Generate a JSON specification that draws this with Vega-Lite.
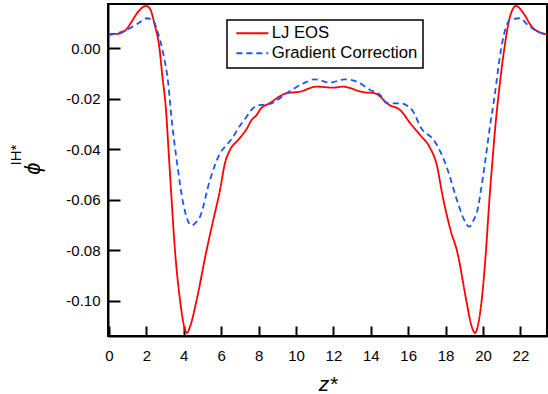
{
  "$schema": "https://vega.github.io/schema/vega-lite/v6.json",
  "width": 439,
  "height": 332,
  "autosize": {"type": "none"},
  "padding": {"left": 108, "top": 4, "right": 1, "bottom": 58},
  "background": "white",
  "config": {"view": {"stroke": "black", "strokeWidth": 2}, "font": "Liberation Sans"},
  "title": {"text": "IH*", "orient": "left", "anchor": "middle", "fontSize": 15, "fontWeight": "normal", "color": "black", "font": "Liberation Sans", "offset": -3, "dx": 15},
  "data": {"values": [
    {"series": "LJ EOS", "z": 0, "phi": 0.0057},
    {"series": "LJ EOS", "z": 0.4, "phi": 0.0057},
    {"series": "LJ EOS", "z": 0.85, "phi": 0.0069},
    {"series": "LJ EOS", "z": 1.2, "phi": 0.0104},
    {"series": "LJ EOS", "z": 1.55, "phi": 0.0144},
    {"series": "LJ EOS", "z": 2.0, "phi": 0.0168},
    {"series": "LJ EOS", "z": 2.2, "phi": 0.0156},
    {"series": "LJ EOS", "z": 2.45, "phi": 0.0092},
    {"series": "LJ EOS", "z": 2.7, "phi": 0.0001},
    {"series": "LJ EOS", "z": 2.85, "phi": -0.0106},
    {"series": "LJ EOS", "z": 3.05, "phi": -0.0244},
    {"series": "LJ EOS", "z": 3.2, "phi": -0.042},
    {"series": "LJ EOS", "z": 3.35, "phi": -0.06},
    {"series": "LJ EOS", "z": 3.53, "phi": -0.08},
    {"series": "LJ EOS", "z": 3.8, "phi": -0.0997},
    {"series": "LJ EOS", "z": 4.0, "phi": -0.1095},
    {"series": "LJ EOS", "z": 4.17, "phi": -0.1128},
    {"series": "LJ EOS", "z": 4.35, "phi": -0.11},
    {"series": "LJ EOS", "z": 4.69, "phi": -0.0997},
    {"series": "LJ EOS", "z": 5.22, "phi": -0.08},
    {"series": "LJ EOS", "z": 5.58, "phi": -0.068},
    {"series": "LJ EOS", "z": 5.94, "phi": -0.0561},
    {"series": "LJ EOS", "z": 6.2, "phi": -0.0456},
    {"series": "LJ EOS", "z": 6.47, "phi": -0.0403},
    {"series": "LJ EOS", "z": 6.91, "phi": -0.0363},
    {"series": "LJ EOS", "z": 7.36, "phi": -0.032},
    {"series": "LJ EOS", "z": 7.63, "phi": -0.0284},
    {"series": "LJ EOS", "z": 7.9, "phi": -0.0264},
    {"series": "LJ EOS", "z": 8.07, "phi": -0.0244},
    {"series": "LJ EOS", "z": 8.6, "phi": -0.0217},
    {"series": "LJ EOS", "z": 9.5, "phi": -0.0178},
    {"series": "LJ EOS", "z": 10.2, "phi": -0.0172},
    {"series": "LJ EOS", "z": 11.1, "phi": -0.0152},
    {"series": "LJ EOS", "z": 12.0, "phi": -0.0156},
    {"series": "LJ EOS", "z": 12.5, "phi": -0.0152},
    {"series": "LJ EOS", "z": 13.6, "phi": -0.0174},
    {"series": "LJ EOS", "z": 14.2, "phi": -0.0178},
    {"series": "LJ EOS", "z": 15.0, "phi": -0.0225},
    {"series": "LJ EOS", "z": 15.56, "phi": -0.0244},
    {"series": "LJ EOS", "z": 16.1, "phi": -0.0296},
    {"series": "LJ EOS", "z": 16.63, "phi": -0.0343},
    {"series": "LJ EOS", "z": 17.17, "phi": -0.0395},
    {"series": "LJ EOS", "z": 17.5, "phi": -0.0455},
    {"series": "LJ EOS", "z": 17.88, "phi": -0.06},
    {"series": "LJ EOS", "z": 18.3, "phi": -0.073},
    {"series": "LJ EOS", "z": 18.6, "phi": -0.08},
    {"series": "LJ EOS", "z": 19.1, "phi": -0.0997},
    {"series": "LJ EOS", "z": 19.35, "phi": -0.109},
    {"series": "LJ EOS", "z": 19.57, "phi": -0.1128},
    {"series": "LJ EOS", "z": 19.75, "phi": -0.109},
    {"series": "LJ EOS", "z": 19.93, "phi": -0.0997},
    {"series": "LJ EOS", "z": 20.16, "phi": -0.08},
    {"series": "LJ EOS", "z": 20.34, "phi": -0.06},
    {"series": "LJ EOS", "z": 20.5, "phi": -0.045},
    {"series": "LJ EOS", "z": 20.64, "phi": -0.0324},
    {"series": "LJ EOS", "z": 20.9, "phi": -0.0139},
    {"series": "LJ EOS", "z": 21.18, "phi": 0.002},
    {"series": "LJ EOS", "z": 21.44, "phi": 0.0125},
    {"series": "LJ EOS", "z": 21.76, "phi": 0.0168},
    {"series": "LJ EOS", "z": 22.16, "phi": 0.0139},
    {"series": "LJ EOS", "z": 22.6, "phi": 0.0086},
    {"series": "LJ EOS", "z": 23.05, "phi": 0.0062},
    {"series": "LJ EOS", "z": 23.42, "phi": 0.0055},
    {"series": "Gradient Correction", "z": 0, "phi": 0.0052},
    {"series": "Gradient Correction", "z": 0.86, "phi": 0.007},
    {"series": "Gradient Correction", "z": 1.57, "phi": 0.0099},
    {"series": "Gradient Correction", "z": 2.0, "phi": 0.0119},
    {"series": "Gradient Correction", "z": 2.37, "phi": 0.0109},
    {"series": "Gradient Correction", "z": 2.63, "phi": 0.0059},
    {"series": "Gradient Correction", "z": 2.9, "phi": -0.002},
    {"series": "Gradient Correction", "z": 3.17, "phi": -0.0139},
    {"series": "Gradient Correction", "z": 3.35, "phi": -0.028},
    {"series": "Gradient Correction", "z": 3.62, "phi": -0.0442},
    {"series": "Gradient Correction", "z": 3.97, "phi": -0.0614},
    {"series": "Gradient Correction", "z": 4.2, "phi": -0.068},
    {"series": "Gradient Correction", "z": 4.42, "phi": -0.0702},
    {"series": "Gradient Correction", "z": 4.65, "phi": -0.069},
    {"series": "Gradient Correction", "z": 4.87, "phi": -0.0667},
    {"series": "Gradient Correction", "z": 5.4, "phi": -0.0522},
    {"series": "Gradient Correction", "z": 5.94, "phi": -0.0416},
    {"series": "Gradient Correction", "z": 6.29, "phi": -0.0383},
    {"series": "Gradient Correction", "z": 6.65, "phi": -0.035},
    {"series": "Gradient Correction", "z": 6.91, "phi": -0.0317},
    {"series": "Gradient Correction", "z": 7.36, "phi": -0.0271},
    {"series": "Gradient Correction", "z": 7.54, "phi": -0.0251},
    {"series": "Gradient Correction", "z": 7.9, "phi": -0.0228},
    {"series": "Gradient Correction", "z": 8.3, "phi": -0.0223},
    {"series": "Gradient Correction", "z": 8.7, "phi": -0.0218},
    {"series": "Gradient Correction", "z": 9.5, "phi": -0.0178},
    {"series": "Gradient Correction", "z": 10.4, "phi": -0.0139},
    {"series": "Gradient Correction", "z": 11.0, "phi": -0.0123},
    {"series": "Gradient Correction", "z": 11.8, "phi": -0.0136},
    {"series": "Gradient Correction", "z": 12.6, "phi": -0.0123},
    {"series": "Gradient Correction", "z": 13.25, "phi": -0.0132},
    {"series": "Gradient Correction", "z": 13.96, "phi": -0.0165},
    {"series": "Gradient Correction", "z": 14.5, "phi": -0.0185},
    {"series": "Gradient Correction", "z": 14.85, "phi": -0.0218},
    {"series": "Gradient Correction", "z": 15.56, "phi": -0.0218},
    {"series": "Gradient Correction", "z": 16.2, "phi": -0.0244},
    {"series": "Gradient Correction", "z": 16.7, "phi": -0.0317},
    {"series": "Gradient Correction", "z": 17.43, "phi": -0.037},
    {"series": "Gradient Correction", "z": 18.05, "phi": -0.0469},
    {"series": "Gradient Correction", "z": 18.6, "phi": -0.06},
    {"series": "Gradient Correction", "z": 18.95, "phi": -0.0673},
    {"series": "Gradient Correction", "z": 19.27, "phi": -0.0707},
    {"series": "Gradient Correction", "z": 19.5, "phi": -0.068},
    {"series": "Gradient Correction", "z": 19.66, "phi": -0.0653},
    {"series": "Gradient Correction", "z": 20.0, "phi": -0.0508},
    {"series": "Gradient Correction", "z": 20.37, "phi": -0.031},
    {"series": "Gradient Correction", "z": 20.64, "phi": -0.0178},
    {"series": "Gradient Correction", "z": 20.9, "phi": -0.0033},
    {"series": "Gradient Correction", "z": 21.18, "phi": 0.0072},
    {"series": "Gradient Correction", "z": 21.44, "phi": 0.0112},
    {"series": "Gradient Correction", "z": 21.98, "phi": 0.0119},
    {"series": "Gradient Correction", "z": 22.4, "phi": 0.0092},
    {"series": "Gradient Correction", "z": 22.94, "phi": 0.0066},
    {"series": "Gradient Correction", "z": 23.42, "phi": 0.0055}
  ]},
  "mark": {"type": "line", "strokeWidth": 1.8, "interpolate": "monotone"},
  "encoding": {
    "x": {"field": "z", "type": "quantitative",
      "scale": {"domain": [-0.05, 23.42], "nice": false, "zero": false},
      "axis": {"orient": "bottom", "values": [0, 2, 4, 6, 8, 10, 12, 14, 16, 18, 20, 22],
        "tickSize": -10, "tickWidth": 2, "tickColor": "black",
        "domainColor": "black", "domainWidth": 2, "grid": false,
        "labelFontSize": 15, "labelColor": "black", "labelPadding": 34, "labelBaseline": "alphabetic", "labelFlush": false,
        "title": "z*", "titleFontSize": 21, "titleFontStyle": "italic", "titleFontWeight": "normal",
        "titleColor": "black", "titleBaseline": "alphabetic", "titleY": 54}},
    "y": {"field": "phi", "type": "quantitative",
      "scale": {"domain": [-0.114, 0.01755], "nice": false, "zero": false},
      "axis": {"orient": "left", "values": [-0.1, -0.08, -0.06, -0.04, -0.02, 0],
        "format": ".2f", "labelExpr": "replace(datum.label, '−', '-')",
        "tickSize": -12, "tickWidth": 2, "tickColor": "black",
        "domainColor": "black", "domainWidth": 2, "grid": false,
        "labelFontSize": 15, "labelColor": "black", "labelPadding": 20, "labelFlush": false,
        "title": "ϕ", "titleFontSize": 22, "titleFontStyle": "italic", "titleFontWeight": "normal",
        "titleColor": "black", "titleX": -64, "titleY": 164}},
    "color": {"field": "series", "type": "nominal",
      "scale": {"domain": ["LJ EOS", "Gradient Correction"], "range": ["#ff0000", "#1a56f0"]},
      "legend": {"orient": "none", "legendX": 119, "legendY": 16, "title": null,
        "strokeColor": "black", "padding": 5, "symbolType": "M-0.8,0H5.6", "symbolSize": 100,
        "symbolStrokeWidth": 2, "labelFontSize": 16.7, "labelColor": "black", "labelOffset": 23, "rowPadding": 2,
        "encode": {"legend": {"update": {"strokeWidth": {"value": 1.5}}}}}},
    "strokeDash": {"field": "series", "type": "nominal",
      "scale": {"domain": ["LJ EOS", "Gradient Correction"], "range": [[1, 0], [6, 4]]},
      "legend": {"orient": "none", "legendX": 119, "legendY": 16, "title": null,
        "strokeColor": "black", "padding": 5, "symbolType": "M-0.8,0H5.6", "symbolSize": 100,
        "symbolStrokeWidth": 2, "labelFontSize": 16.7, "labelColor": "black", "labelOffset": 23, "rowPadding": 2,
        "encode": {"legend": {"update": {"strokeWidth": {"value": 1.5}}}}}}
  }
}
